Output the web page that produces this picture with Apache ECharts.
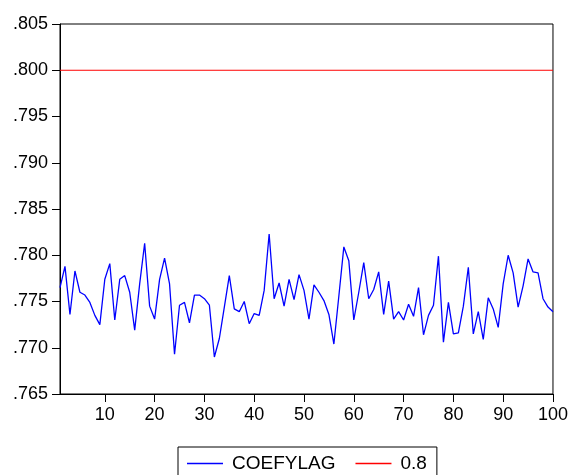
<!DOCTYPE html>
<html>
<head>
<meta charset="utf-8">
<script src="https://cdn.jsdelivr.net/npm/echarts@6/dist/echarts.min.js"></script>
<style>
  html, body { margin: 0; padding: 0; background: #fff; }
  #main { width: 571px; height: 475px; }
</style>
</head>
<body>
<div id="main"></div>
<script>
const coefylag = [
  0.7765, 0.7788, 0.7736, 0.7783, 0.7760, 0.7757, 0.7749, 0.7735, 0.7725, 0.7774,
  0.7791, 0.7730, 0.7774, 0.7778, 0.7760, 0.7719, 0.7769, 0.7813, 0.7745, 0.7731,
  0.7774, 0.7797, 0.7769, 0.7693, 0.7746, 0.7749, 0.7727, 0.7757, 0.7757, 0.7753,
  0.7746, 0.7690, 0.7710, 0.7744, 0.7778, 0.7742, 0.7739, 0.7750, 0.7726, 0.7737,
  0.7735, 0.7762, 0.7823, 0.7753, 0.7770, 0.7745, 0.7774, 0.7752, 0.7779, 0.7762,
  0.7731, 0.7768, 0.7760, 0.7751, 0.7736, 0.7704, 0.7756, 0.7809, 0.7794, 0.7730,
  0.7760, 0.7792, 0.7753, 0.7763, 0.7782, 0.7736, 0.7772, 0.7731, 0.7739, 0.7730,
  0.7747, 0.7734, 0.7765, 0.7714, 0.7735, 0.7746, 0.7799, 0.7706, 0.7749, 0.7715,
  0.7716, 0.7745, 0.7787, 0.7715, 0.7739, 0.7709, 0.7754, 0.7742, 0.7722, 0.7769,
  0.7800, 0.7781, 0.7744, 0.7767, 0.7796, 0.7782, 0.7781, 0.7753, 0.7744, 0.7739
];
const level = 0.8;
const xTicks = [10, 20, 30, 40, 50, 60, 70, 80, 90, 100];
const yMin = 0.765, yMax = 0.805, yStep = 0.005;

const chart = echarts.init(document.getElementById('main'));
const font = 'Arial, "Liberation Sans", sans-serif';

const option = {
  animation: false,
  grid: {
    left: 60, right: 15, top: 24, bottom: 81,
    show: true, borderColor: '#000', borderWidth: 1, backgroundColor: '#fff'
  },
  xAxis: {
    type: 'value',
    min: 1,
    max: 100,
    axisLine: { lineStyle: { color: '#000', width: 1 } },
    axisTick: { customValues: xTicks, length: 8, lineStyle: { color: '#000' } },
    axisLabel: { customValues: xTicks, color: '#000', fontSize: 18, fontFamily: font, margin: 12 },
    splitLine: { show: false }
  },
  yAxis: {
    type: 'value',
    min: yMin,
    max: yMax,
    interval: yStep,
    axisLine: { show: true, lineStyle: { color: '#000', width: 1 } },
    axisTick: { show: true, length: 8, lineStyle: { color: '#000' } },
    axisLabel: {
      color: '#000', fontSize: 18, fontFamily: font, margin: 12,
      formatter: v => v.toFixed(3).replace(/^0/, '')
    },
    splitLine: { show: false }
  },
  legend: {
    left: 178,
    top: 447,
    padding: [7, 10, 8, 9],
    borderColor: '#000',
    borderWidth: 1,
    itemGap: 20,
    itemWidth: 36,
    itemHeight: 1.5,
    icon: 'rect',
    textStyle: { color: '#000', fontSize: 19, fontFamily: font, padding: [0, 0, 0, 4] },
    data: ['COEFYLAG', '0.8']
  },
  series: [
    {
      name: 'COEFYLAG',
      type: 'line',
      data: coefylag.map((v, i) => [i + 1, v]),
      symbol: 'none',
      lineStyle: { color: '#0000ff', width: 1.3 },
      itemStyle: { color: '#0000ff' }
    },
    {
      name: '0.8',
      type: 'line',
      data: [[1, level], [100, level]],
      symbol: 'none',
      lineStyle: { color: '#ff0000', width: 1 },
      itemStyle: { color: '#ff0000' }
    }
  ]
};
option && chart.setOption(option);
</script>
</body>
</html>
